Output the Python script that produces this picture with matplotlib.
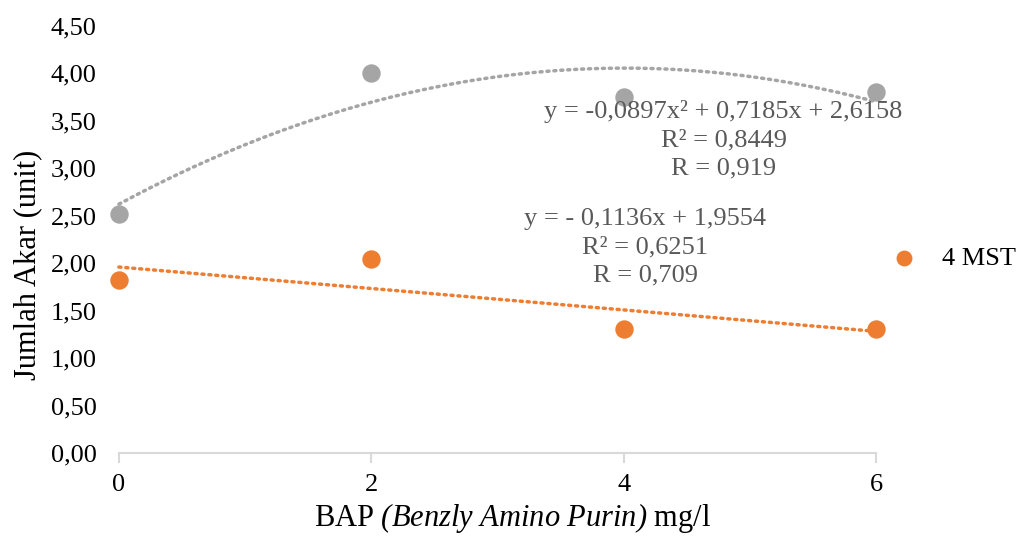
import numpy as np
import matplotlib.pyplot as plt
from matplotlib.ticker import FuncFormatter

plt.rcParams['font.family'] = ['Liberation Serif', 'DejaVu Serif']
plt.rcParams['mathtext.fontset'] = 'custom'
plt.rcParams['mathtext.rm'] = 'Liberation Serif:italic'
plt.rcParams['mathtext.it'] = 'Liberation Serif:italic'

# data
bap = [0, 2, 4, 6]
akar_gray = [2.52, 4.00, 3.75, 3.80]
akar_mst4 = [1.82, 2.04, 1.31, 1.31]

gray_eq = "y = -0,0897x² + 0,7185x + 2,6158\nR² = 0,8449\nR = 0,919"
orange_eq = "y = - 0,1136x + 1,9554\nR² = 0,6251\nR = 0,709"

c_gray = '#A5A5A5'
c_orange = '#ED7D31'
c_text = '#595959'

fig = plt.figure(figsize=(10.25, 5.38), dpi=100)
ax = fig.add_axes([0.116, 0.158, 0.739, 0.794])

# trendlines
xs = np.linspace(0, 6, 200)
p2 = np.polyfit(bap, akar_gray, 2)
p1 = np.polyfit(bap, akar_mst4, 1)
ax.plot(xs, np.polyval(p2, xs), color=c_gray, lw=2.5, ls=(0, (0.6, 1.4)),
        dash_capstyle='round', clip_on=False)
ax.plot(xs, np.polyval(p1, xs), color=c_orange, lw=2.5, ls=(0, (0.6, 1.4)),
        dash_capstyle='round', clip_on=False)

ax.scatter(bap, akar_gray, s=150, color=c_gray, zorder=3, clip_on=False)
ax.scatter(bap, akar_mst4, s=150, color=c_orange, zorder=3, clip_on=False, label='4 MST')

ax.text(4.79, 3.30, gray_eq, ha='center', va='center', color=c_text,
        fontsize=19, linespacing=1.38, multialignment='center')
ax.text(4.17, 2.17, orange_eq, ha='center', va='center', color=c_text,
        fontsize=19, linespacing=1.38, multialignment='center')

ax.set_xlim(0, 6)
ax.set_ylim(0, 4.5)
ax.set_xticks([0, 2, 4, 6])
ax.set_yticks(np.arange(0, 4.51, 0.5))
ax.yaxis.set_major_formatter(FuncFormatter(lambda v, p: f"{v:.2f}".replace('.', ',')))

for s in ['top', 'right', 'left']:
    ax.spines[s].set_visible(False)
ax.spines['bottom'].set_color('#D9D9D9')
ax.spines['bottom'].set_linewidth(1.5)
ax.tick_params(axis='x', length=7, width=1.5, color='#D9D9D9', pad=8, labelsize=19)
ax.tick_params(axis='y', length=0, pad=16, labelsize=19)

ax.set_xlabel("BAP $(Benzly\\ Amino\\ Purin)$ mg/l", fontsize=22, labelpad=4)
ax.set_ylabel("Jumlah Akar (unit)", fontsize=22, labelpad=6)
ax.xaxis.label.set_x(0.52)
ax.yaxis.label.set_y(0.44)

ax.legend(loc='center left', bbox_to_anchor=(0.97, 0.455), frameon=False,
          fontsize=19, handletextpad=0.45, markerscale=0.85)

fig.savefig('out.png', dpi=100)
